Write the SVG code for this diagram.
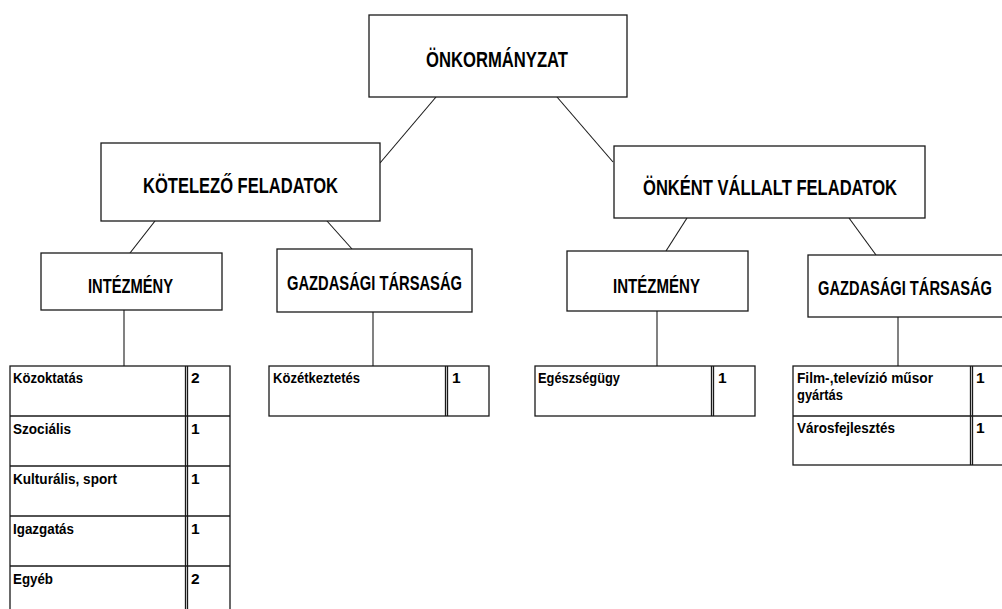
<svg xmlns="http://www.w3.org/2000/svg" width="1002" height="609" viewBox="0 0 1002 609">
<style>
.box{fill:#fff;stroke:#1a1a1a;stroke-width:1.3}
.ln{stroke:#1a1a1a;stroke-width:1.1;fill:none}
.dv{stroke:#1a1a1a;stroke-width:1.3}
.t{font-family:"Liberation Sans",Arial,sans-serif;font-weight:bold;font-size:20.5px;fill:#000}
.tt{font-size:21.5px}
.c{font-family:"Liberation Sans",Arial,sans-serif;font-weight:bold;font-size:15.5px;fill:#000}
</style>
<rect width="1002" height="609" fill="#fff"/>
<g id="connectors">
<line class="ln" x1="436" y1="97" x2="380" y2="163"/>
<line class="ln" x1="557" y1="97" x2="613" y2="162"/>
<line class="ln" x1="155" y1="221" x2="130" y2="253"/>
<line class="ln" x1="327" y1="221" x2="352" y2="249"/>
<line class="ln" x1="687" y1="218" x2="666" y2="251"/>
<line class="ln" x1="849" y1="218" x2="876" y2="255"/>
<line class="ln" x1="124" y1="310" x2="124" y2="366"/>
<line class="ln" x1="373" y1="312" x2="373" y2="366"/>
<line class="ln" x1="657" y1="311" x2="657" y2="366"/>
<line class="ln" x1="898" y1="317" x2="898" y2="366"/>
</g>
<g id="onkormanyzat">
<rect class="box" x="369" y="15" width="258" height="82"/>
<text class="t tt" x="426" y="67" textLength="142" lengthAdjust="spacingAndGlyphs">ÖNKORMÁNYZAT</text>
</g>
<g id="kotelezo">
<rect class="box" x="101" y="143" width="279" height="78"/>
<text class="t tt" x="143" y="193" textLength="195" lengthAdjust="spacingAndGlyphs">KÖTELEZŐ FELADATOK</text>
</g>
<g id="onkent">
<rect class="box" x="614" y="146" width="311" height="72"/>
<text class="t tt" x="643" y="195" textLength="254" lengthAdjust="spacingAndGlyphs">ÖNKÉNT VÁLLALT FELADATOK</text>
</g>
<g id="intezmeny-1">
<rect class="box" x="41" y="253" width="181" height="57"/>
<text class="t" x="88" y="293" textLength="85" lengthAdjust="spacingAndGlyphs">INTÉZMÉNY</text>
</g>
<g id="gazdasagi-1">
<rect class="box" x="277" y="249" width="195" height="63"/>
<text class="t" x="287" y="290" textLength="175" lengthAdjust="spacingAndGlyphs">GAZDASÁGI TÁRSASÁG</text>
</g>
<g id="intezmeny-2">
<rect class="box" x="567" y="251" width="181" height="60"/>
<text class="t" x="613" y="293" textLength="87" lengthAdjust="spacingAndGlyphs">INTÉZMÉNY</text>
</g>
<g id="gazdasagi-2">
<rect class="box" x="808" y="255" width="210" height="62"/>
<text class="t" x="818" y="295" textLength="174" lengthAdjust="spacingAndGlyphs">GAZDASÁGI TÁRSASÁG</text>
</g>
<g id="table-1">
<rect class="box" x="10" y="366" width="220" height="260"/>
<line class="dv" x1="10" y1="416" x2="230" y2="416"/>
<line class="dv" x1="10" y1="466" x2="230" y2="466"/>
<line class="dv" x1="10" y1="516" x2="230" y2="516"/>
<line class="dv" x1="10" y1="566" x2="230" y2="566"/>
<line class="dv" x1="185.5" y1="366" x2="185.5" y2="626"/>
<line class="dv" x1="187.5" y1="366" x2="187.5" y2="626"/>
<text class="c" x="13" y="383" textLength="70" lengthAdjust="spacingAndGlyphs">Közoktatás</text>
<text class="c" x="191" y="383">2</text>
<text class="c" x="13" y="434" textLength="58" lengthAdjust="spacingAndGlyphs">Szociális</text>
<text class="c" x="191" y="434">1</text>
<text class="c" x="13" y="484" textLength="104" lengthAdjust="spacingAndGlyphs">Kulturális, sport</text>
<text class="c" x="191" y="484">1</text>
<text class="c" x="13" y="534" textLength="61" lengthAdjust="spacingAndGlyphs">Igazgatás</text>
<text class="c" x="191" y="534">1</text>
<text class="c" x="13" y="584" textLength="40" lengthAdjust="spacingAndGlyphs">Egyéb</text>
<text class="c" x="191" y="584">2</text>
</g>
<g id="table-2">
<rect class="box" x="269" y="366" width="220" height="50"/>
<line class="dv" x1="445.5" y1="366" x2="445.5" y2="416"/>
<line class="dv" x1="447.5" y1="366" x2="447.5" y2="416"/>
<text class="c" x="273" y="383" textLength="87" lengthAdjust="spacingAndGlyphs">Közétkeztetés</text>
<text class="c" x="452" y="383">1</text>
</g>
<g id="table-3">
<rect class="box" x="535" y="366" width="220" height="50"/>
<line class="dv" x1="711.5" y1="366" x2="711.5" y2="416"/>
<line class="dv" x1="713.5" y1="366" x2="713.5" y2="416"/>
<text class="c" x="538" y="383" textLength="82" lengthAdjust="spacingAndGlyphs">Egészségügy</text>
<text class="c" x="718" y="383">1</text>
</g>
<g id="table-4">
<rect class="box" x="793" y="366" width="230" height="99"/>
<line class="dv" x1="793" y1="416" x2="1023" y2="416"/>
<line class="dv" x1="970.5" y1="366" x2="970.5" y2="465"/>
<line class="dv" x1="972.5" y1="366" x2="972.5" y2="465"/>
<text class="c" x="797" y="383" textLength="136" lengthAdjust="spacingAndGlyphs">Film-,televízió műsor</text>
<text class="c" x="797" y="400" textLength="46" lengthAdjust="spacingAndGlyphs">gyártás</text>
<text class="c" x="976" y="383">1</text>
<text class="c" x="797" y="433" textLength="98" lengthAdjust="spacingAndGlyphs">Városfejlesztés</text>
<text class="c" x="976" y="433">1</text>
</g>
</svg>
